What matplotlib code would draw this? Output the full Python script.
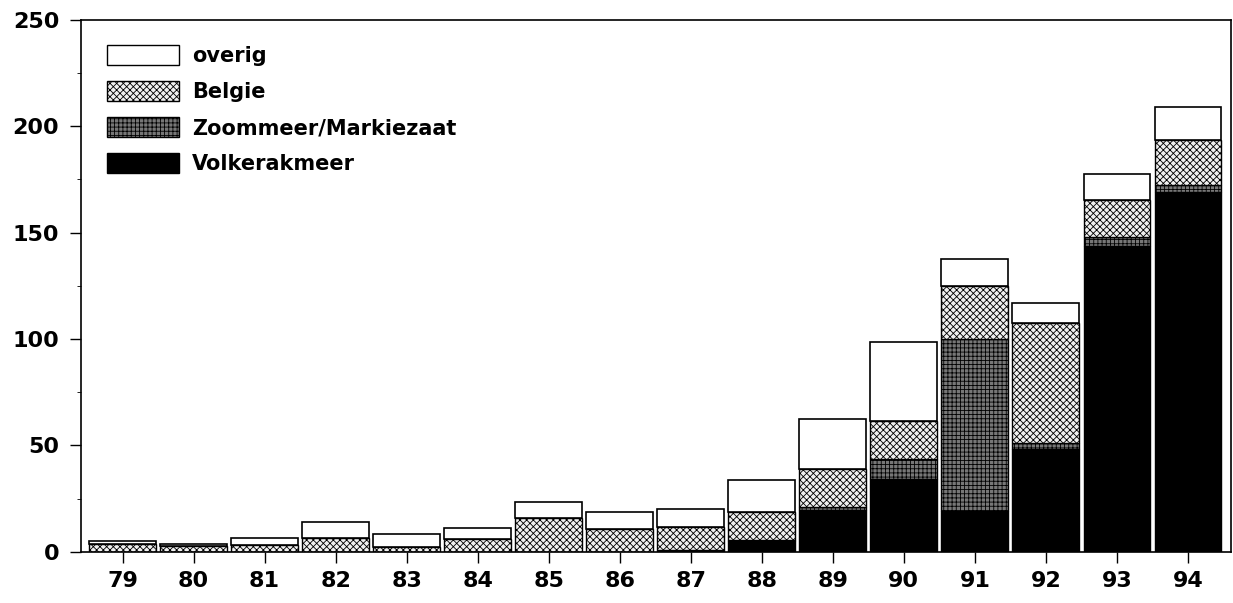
import matplotlib.pyplot as plt
from matplotlib.patches import Patch
from matplotlib.ticker import MultipleLocator

years = ['79', '80', '81', '82', '83', '84', '85', '86',
         '87', '88', '89', '90', '91', '92', '93', '94']
volkerakmeer = [0, 0, 0, 0, 0, 0, 0, 0, 1, 5, 19.5, 34, 19, 48.5, 143.5, 169]
zoommeer = [0, 0, 0, 0, 0, 0, 0, 0, 0, 0.5, 1.5, 9.5, 81, 2.5, 4.5, 3.5]
belgie = [3.5, 2.5, 3, 6.5, 2, 6, 16, 10.5, 10.5, 13, 18, 18, 25, 56.5, 17.5, 21]
overig = [1.5, 1, 3.5, 7.5, 6.5, 5, 7.5, 8, 8.5, 15, 23.5, 37, 12.5, 9.5, 12, 15.5]

plt.rcParams['font.family'] = ['DejaVu Sans']
plt.rcParams['font.weight'] = 'bold'
plt.rcParams['hatch.linewidth'] = 0.6

fig = plt.figure(figsize=(12.33, 6.03), dpi=100)
ax = fig.add_axes([0.066, 0.085, 0.932, 0.882])

x = list(range(len(years)))
w = 0.94

# stacked bars, bottom to top
bottom = [0] * len(x)
ax.bar(x, volkerakmeer, w, bottom=bottom, color='black', edgecolor='black', linewidth=1)
bottom = [b + v for b, v in zip(bottom, volkerakmeer)]
ax.bar(x, zoommeer, w, bottom=bottom, color='#777777', edgecolor='black',
       hatch='++++', linewidth=1)
bottom = [b + v for b, v in zip(bottom, zoommeer)]
ax.bar(x, belgie, w, bottom=bottom, color='#f0f0f0', edgecolor='black',
       hatch='xxxxx', linewidth=1)
bottom = [b + v for b, v in zip(bottom, belgie)]
ax.bar(x, overig, w, bottom=bottom, color='white', edgecolor='black', linewidth=1.2)

ax.set_xlim(-0.58, 15.6)
ax.set_ylim(0, 250)
ax.set_xticks(x)
ax.set_xticklabels(years)
ax.yaxis.set_major_locator(MultipleLocator(50))
ax.yaxis.set_minor_locator(MultipleLocator(25))
ax.tick_params(axis='both', labelsize=16, direction='out', length=8, width=1)
ax.tick_params(axis='y', pad=8)
ax.tick_params(axis='x', pad=6)
ax.tick_params(axis='y', which='minor', length=3)
for s in ax.spines.values():
    s.set_linewidth(1.2)

handles = [
    Patch(facecolor='white', edgecolor='black', label='overig'),
    Patch(facecolor='#f0f0f0', edgecolor='black', hatch='xxxxx', label='Belgie'),
    Patch(facecolor='#777777', edgecolor='black', hatch='++++', label='Zoommeer/Markiezaat'),
    Patch(facecolor='black', edgecolor='black', label='Volkerakmeer'),
]
ax.legend(handles=handles, loc='upper left', frameon=False, fontsize=15,
          handlelength=3.45, handleheight=1.1, labelspacing=0.72,
          bbox_to_anchor=(0.01, 0.98), handletextpad=0.6, borderaxespad=0.3)

plt.savefig('out.png', dpi=100)
